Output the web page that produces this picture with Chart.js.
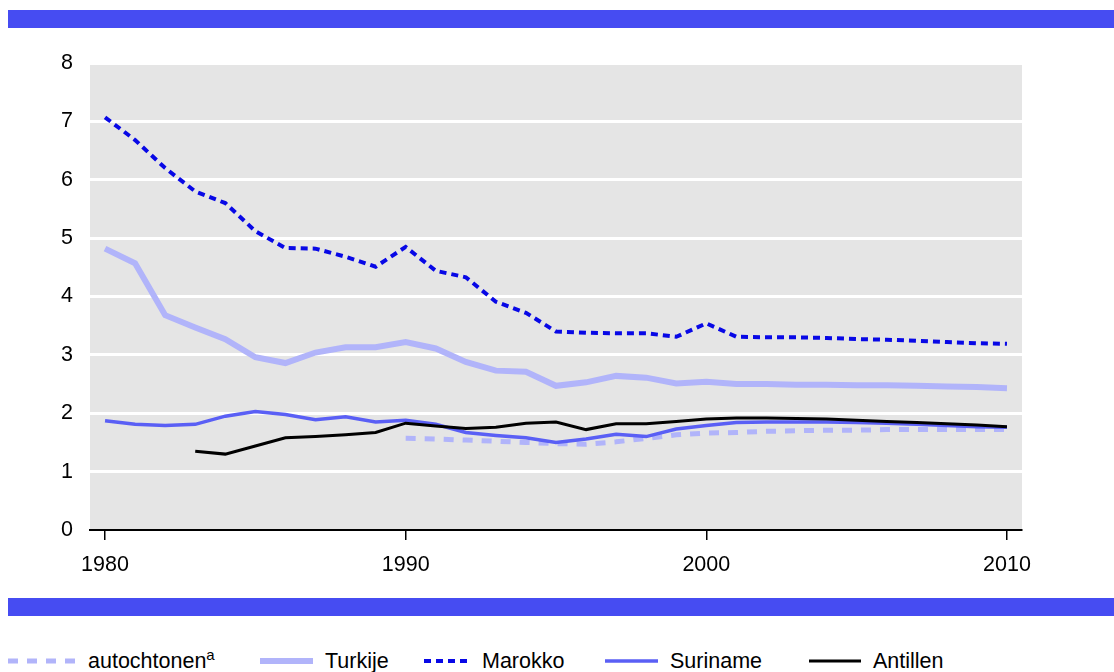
<!DOCTYPE html>
<html>
<head>
<meta charset="utf-8">
<script src="https://cdn.jsdelivr.net/npm/chart.js@4/dist/chart.umd.min.js"></script>
<style>
  body { margin: 0; background: #fff; font-family: 'Liberation Sans', Arial, sans-serif; }
  #wrap { position: relative; width: 1114px; height: 672px; overflow: hidden; }
  .bar { position: absolute; left: 8px; right: 0; height: 18px; background: #464cf2; z-index: 2; }
  #chart { position: absolute; left: 0; top: 0; }
  .item { position: absolute; top: 647px; height: 28px; display: flex; align-items: center; font-size: 21.5px; color: #000; }
  .item svg { margin-right: 12px; }
  sup { font-size: 15px; position: relative; top: -2px; vertical-align: top; line-height: 1; }
</style>
</head>
<body>
<div id="wrap">
  <div class="bar" style="top:10px"></div>
  <canvas id="chart" width="1114" height="600"></canvas>
  <div class="bar" style="top:598px"></div>
  <div id="legend"></div>
</div>
<script>
// years on the x axis
const years = [1980, 1981, 1982, 1983, 1984, 1985, 1986, 1987, 1988, 1989,
  1990, 1991, 1992, 1993, 1994, 1995, 1996, 1997, 1998, 1999,
  2000, 2001, 2002, 2003, 2004, 2005, 2006, 2007, 2008, 2009, 2010]

const xTicks = [1980, 1990, 2000, 2010]
const yTicks = [0, 1, 2, 3, 4, 5, 6, 7, 8]

const autochtonen = [null, null, null, null, null, null, null, null, null, null,
  1.57, 1.56, 1.54, 1.52, 1.50, 1.48, 1.47, 1.51, 1.57, 1.63,
  1.66, 1.67, 1.69, 1.70, 1.71, 1.71, 1.72, 1.72, 1.72, 1.72, 1.72]

const turkije = [4.82, 4.57, 3.68, 3.47, 3.27, 2.96, 2.86, 3.04, 3.13, 3.13,
  3.22, 3.11, 2.88, 2.73, 2.71, 2.47, 2.53, 2.64, 2.61, 2.51,
  2.54, 2.50, 2.50, 2.49, 2.49, 2.48, 2.48, 2.47, 2.46, 2.45, 2.43]

const marokko = [7.07, 6.68, 6.20, 5.80, 5.60, 5.12, 4.83, 4.82, 4.68, 4.51,
  4.85, 4.44, 4.33, 3.91, 3.72, 3.40, 3.38, 3.37, 3.37, 3.31,
  3.54, 3.31, 3.30, 3.30, 3.29, 3.27, 3.26, 3.24, 3.22, 3.20, 3.19]

const suriname = [1.87, 1.81, 1.79, 1.81, 1.95, 2.03, 1.98, 1.89, 1.94, 1.85,
  1.88, 1.81, 1.67, 1.62, 1.58, 1.50, 1.56, 1.64, 1.60, 1.73,
  1.79, 1.84, 1.85, 1.85, 1.85, 1.84, 1.83, 1.81, 1.79, 1.77, 1.76]

const antillen = [null, null, null, 1.35, 1.30, 1.44, 1.58, 1.60, 1.63, 1.67,
  1.83, 1.78, 1.74, 1.76, 1.83, 1.85, 1.72, 1.82, 1.82, 1.86,
  1.90, 1.92, 1.92, 1.91, 1.90, 1.88, 1.86, 1.84, 1.82, 1.80, 1.77]

const names = ['autochtonen', 'Turkije', 'Marokko', 'Suriname', 'Antillen']

const LIGHT = '#b1b4fa'
const DARK = '#0808e6'
const MID = '#5a5ff5'

function pts(vals){
    return years.map((yr, i) => ({x: yr, y: vals[i]})).filter(p => p.y !== null)
}

const styles = [
    {color: LIGHT, width: 5, dash: [10, 9], order: 5},
    {color: LIGHT, width: 6, dash: [], order: 4},
    {color: DARK, width: 4, dash: [7, 5], order: 3},
    {color: MID, width: 3.5, dash: [], order: 2},
    {color: '#000', width: 3, dash: [], order: 1}
]
const series = [autochtonen, turkije, marokko, suriname, antillen]

const datasets = series.map((s, i) => ({
    label: names[i],
    data: pts(s),
    borderColor: styles[i].color,
    backgroundColor: styles[i].color,
    borderWidth: styles[i].width,
    borderDash: styles[i].dash,
    order: styles[i].order,
    pointRadius: 0,
    tension: 0,
    fill: false
}))

// grey plot background
const greyBg = {
    id: 'greyBg',
    beforeDraw(chart){
        const a = chart.chartArea
        const c = chart.ctx
        c.save()
        c.fillStyle = '#e5e5e5'
        c.fillRect(a.left, a.top, a.right - a.left, a.bottom - a.top)
        c.restore()
    }
}

const font = {family: "'Liberation Sans', Arial, sans-serif", size: 21.5}

new Chart(document.querySelector('#chart'), {
    type: 'line',
    data: {datasets: datasets},
    plugins: [greyBg],
    options: {
        responsive: false,
        animation: false,
        layout: {padding: {top: 63, right: 92, left: 0, bottom: 0}},
        plugins: {legend: {display: false}, tooltip: {enabled: false}},
        scales: {
            x: {
                type: 'linear',
                min: 1979.5,
                max: 2010.5,
                afterBuildTicks: s => { s.ticks = xTicks.map(v => ({value: v})) },
                afterFit: s => { s.height = 70 },
                ticks: {color: '#000', font: font, padding: 12, maxRotation: 0, callback: v => String(v)},
                grid: {drawOnChartArea: false, drawTicks: true, tickLength: 10, color: '#000', lineWidth: 1.5},
                border: {display: true, color: '#000', width: 2}
            },
            y: {
                min: 0,
                max: 8,
                afterBuildTicks: s => { s.ticks = yTicks.map(v => ({value: v})) },
                afterFit: s => { s.width = 90 },
                ticks: {color: '#000', font: font, padding: 17},
                grid: {
                    drawTicks: false,
                    lineWidth: 3,
                    color: ctx => (ctx.tick && ctx.tick.value === 0) ? 'rgba(0,0,0,0)' : '#fff'
                },
                border: {display: false}
            }
        }
    }
})

// legend below the lower bar
const legendPos = [8, 260, 424, 605, 809]
const legendLen = [68, 53, 46, 53, 52]
const legend = document.querySelector('#legend')
names.forEach((n, i) => {
    const d = document.createElement('div')
    d.className = 'item'
    d.style.left = legendPos[i] + 'px'
    const st = styles[i]
    const w = legendLen[i]
    d.innerHTML = `<svg width="${w}" height="10"><line x1="0" y1="5" x2="${w}" y2="5" stroke="${st.color}" stroke-width="${st.width}" stroke-dasharray="${st.dash.join(' ')}"/></svg>` +
        `<span>${n}${i === 0 ? '<sup>a</sup>' : ''}</span>`
    legend.appendChild(d)
})
</script>
</body>
</html>
